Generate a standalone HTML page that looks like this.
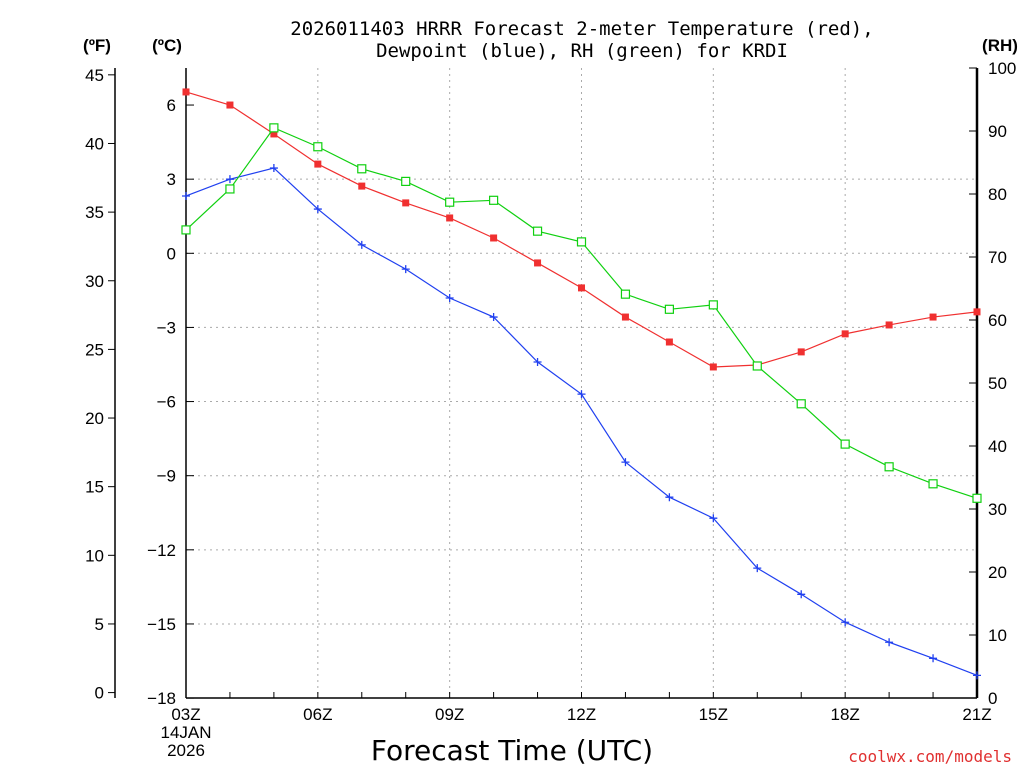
<!DOCTYPE html>
<html><head><meta charset="utf-8"><style>
body{margin:0;background:#fff;width:1024px;height:768px;overflow:hidden}
svg{display:block}
text{font-family:"Liberation Sans",sans-serif;fill:#000}
</style></head><body>
<svg id="chart" width="1024" height="768" xmlns="http://www.w3.org/2000/svg">
<text x="582" y="35" text-anchor="middle" font-size="19" style="font-family:'DejaVu Sans Mono',monospace">2026011403 HRRR Forecast 2-meter Temperature (red),</text>
<text x="582" y="57" text-anchor="middle" font-size="19" style="font-family:'DejaVu Sans Mono',monospace">Dewpoint (blue), RH (green) for KRDI</text>
<text x="97" y="51" text-anchor="middle" font-size="17" font-weight="bold">(ºF)</text>
<text x="167" y="51" text-anchor="middle" font-size="17" font-weight="bold">(ºC)</text>
<text x="1000" y="51" text-anchor="middle" font-size="17" font-weight="bold">(RH)</text>
<text x="512" y="760" text-anchor="middle" font-size="28" style="font-family:'DejaVu Sans',sans-serif">Forecast Time (UTC)</text>
<text x="1012" y="762" text-anchor="end" font-size="16" fill="#e03030" style="fill:#e03030;font-family:'DejaVu Sans Mono',monospace">coolwx.com/models</text>
<g id="g"></g>
</svg>
<script>
const hours=["03Z","04Z","05Z","06Z","07Z","08Z","09Z","10Z","11Z","12Z","13Z","14Z","15Z","16Z","17Z","18Z","19Z","20Z","21Z"];
const tempC=[6.53,6.0,4.83,3.61,2.72,2.04,1.43,0.62,-0.39,-1.4,-2.58,-3.59,-4.6,-4.52,-3.99,-3.26,-2.9,-2.58,-2.37];
const dewC=[2.32,3.0,3.45,1.79,0.34,-0.64,-1.81,-2.58,-4.4,-5.7,-8.45,-9.87,-10.72,-12.74,-13.8,-14.93,-15.74,-16.39,-17.08];
const rh=[74.3,80.8,90.5,87.5,84,82,78.7,79,74.1,72.4,64.1,61.7,62.4,52.7,46.7,40.3,36.7,34,31.7];
const cTicks=[6,3,0,-3,-6,-9,-12,-15,-18];
const fTicks=[45,40,35,30,25,20,15,10,5,0];
const rhTicks=[100,90,80,70,60,50,40,30,20,10,0];
const xLabels=["03Z","06Z","09Z","12Z","15Z","18Z","21Z"];
const X0=186,X1=977,Y0=698,YT=68;
const x=i=>X0+i*(X1-X0)/(hours.length-1);
const yc=c=>253.3-c*24.71;
const yf=f=>yc((f-32)*5/9);
const yr=r=>Y0-r*(Y0-YT)/100;
const g=document.getElementById('g');const NS='http://www.w3.org/2000/svg';
function el(t,a,p){const e=document.createElementNS(NS,t);for(const k in a)e.setAttribute(k,a[k]);(p||g).appendChild(e);return e;}
// grid
xLabels.forEach(l=>{const i=hours.indexOf(l);if(i>0&&i<hours.length-1){const e=el('line',{x1:x(i),x2:x(i),y1:YT,y2:Y0,stroke:'#aaa','stroke-dasharray':'2,4'});}});
cTicks.forEach(c=>{if(c<6&&c>-18){const e=el('line',{x1:X0,x2:X1,y1:yc(c),y2:yc(c),stroke:'#aaa','stroke-dasharray':'2,4'});}});
// axes
let a=el('line',{x1:X0,x2:X0,y1:YT,y2:Y0,stroke:'#000','stroke-width':1.5});
a=el('line',{x1:X1,x2:X1,y1:YT,y2:Y0,stroke:'#000','stroke-width':2.5});
a=el('line',{x1:X0,x2:X1,y1:Y0,y2:Y0,stroke:'#000','stroke-width':1.5});
a=el('line',{x1:115,x2:115,y1:YT,y2:Y0,stroke:'#000','stroke-width':1.5});
cTicks.forEach(c=>{el('line',{x1:X0,x2:X0+8,y1:yc(c),y2:yc(c),stroke:'#000'});const t=el('text',{x:X0-10,y:yc(c)+6,'text-anchor':'end','font-size':17});t.textContent=String(c).replace('-','−');});
fTicks.forEach(f=>{el('line',{x1:108,x2:115,y1:yf(f),y2:yf(f),stroke:'#000'});const t=el('text',{x:104,y:yf(f)+6,'text-anchor':'end','font-size':17});t.textContent=f;});
rhTicks.forEach(r=>{el('line',{x1:X1-8,x2:X1,y1:yr(r),y2:yr(r),stroke:'#000'});const t=el('text',{x:988,y:yr(r)+6,'font-size':17});t.textContent=r;});
hours.forEach((h,i)=>{el('line',{x1:x(i),x2:x(i),y1:Y0,y2:Y0-6,stroke:'#000'});});
xLabels.forEach(l=>{const i=hours.indexOf(l);const t=el('text',{x:x(i),y:Y0+22,'text-anchor':'middle','font-size':17});t.textContent=l;});
[["14JAN",738],["2026",756]].forEach(([s,yy])=>{const t=el('text',{x:X0,y:yy,'text-anchor':'middle','font-size':17});t.textContent=s;});
function series(vals,fy,color,name,mk){const p=el('polyline',{points:vals.map((v,i)=>x(i)+','+fy(v)).join(' '),fill:'none',stroke:color,'stroke-width':1.2});
vals.forEach((v,i)=>{const cx=x(i),cy=fy(v);let m;
if(mk==='fill')m=el('rect',{x:cx-3.5,y:cy-3.5,width:7,height:7,fill:color});
else if(mk==='open')m=el('rect',{x:cx-4,y:cy-4,width:8,height:8,fill:'#fff',stroke:color,'stroke-width':1.2});
else m=el('path',{d:`M${cx-4},${cy}H${cx+4}M${cx},${cy-4}V${cy+4}`,stroke:color,'stroke-width':1.3});
});}
series(tempC,yc,'#f03030','temperature','fill');
series(dewC,yc,'#2040f0','dewpoint','plus');
series(rh,yr,'#10d010','rh','open');
</script>
</body></html>
